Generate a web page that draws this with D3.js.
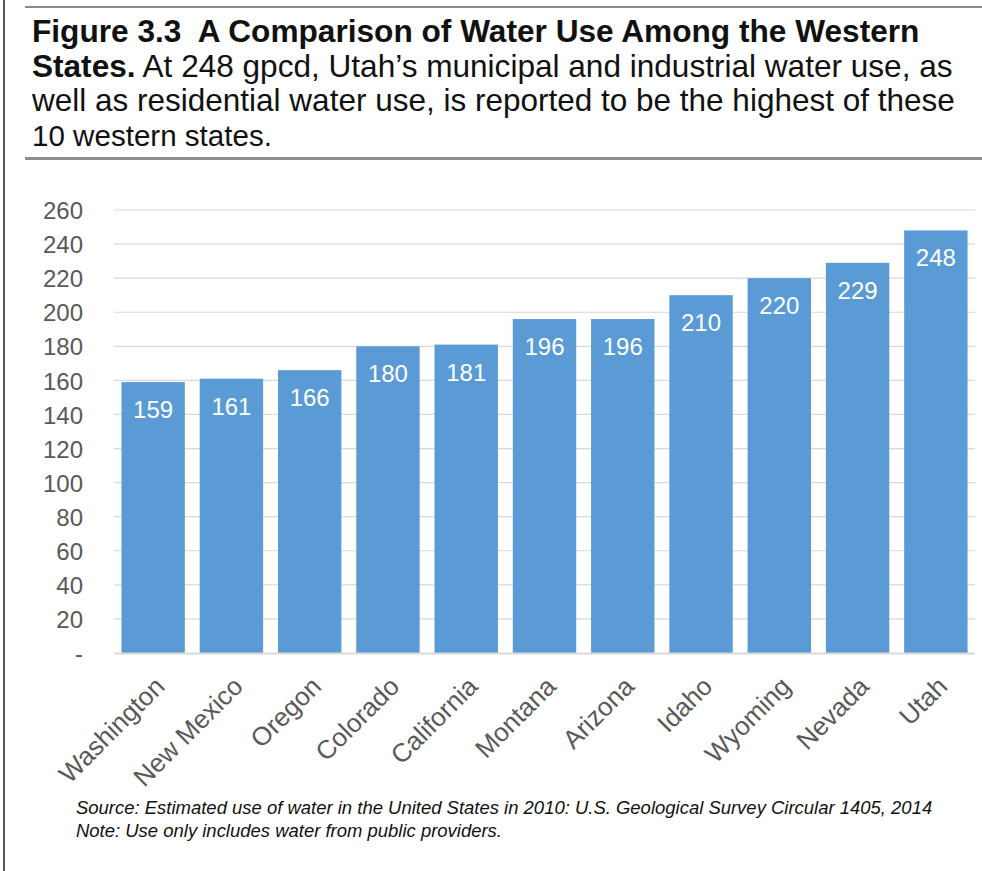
<!DOCTYPE html>
<html><head><meta charset="utf-8">
<script src="https://cdn.jsdelivr.net/npm/d3@7"></script>
<style>body{margin:0;background:#fff}svg{display:block}text{font-family:"Liberation Sans",Arial,sans-serif}</style>
</head><body>
<script>
const states = ["Washington","New Mexico","Oregon","Colorado","California","Montana","Arizona","Idaho","Wyoming","Nevada","Utah"];
const gpcd = [159,161,166,180,181,196,196,210,220,229,248];
const yTicks = [0,20,40,60,80,100,120,140,160,180,200,220,240,260];
const titleLines = [
  [{t:"Figure 3.3\u00a0 A Comparison of Water Use Among the Western",b:true}],
  [{t:"States.",b:true},{t:" At 248 gpcd, Utah\u2019s municipal and industrial water use, as",b:false}],
  [{t:"well as residential water use, is reported to be the highest of these",b:false}],
  [{t:"10 western states.",b:false}]
];
const notes = ["Source: Estimated use of water in the United States in 2010: U.S. Geological Survey Circular 1405, 2014",
               "Note: Use only includes water from public providers."];

const W=982,H=871;
const svg=d3.select("body").append("svg").attr("width",W).attr("height",H);

// frame lines
svg.append("line").attr("x1",4).attr("x2",4).attr("y1",0).attr("y2",H).attr("stroke","#555").attr("stroke-width",2);
svg.append("line").attr("x1",25).attr("x2",W).attr("y1",7).attr("y2",7).attr("stroke","#8a8a8a").attr("stroke-width",2);
svg.append("line").attr("x1",25).attr("x2",W).attr("y1",158.5).attr("y2",158.5).attr("stroke","#8f8f8f").attr("stroke-width",3);

// title
const tBase=[42,77,111,146];
const tWidth=[888,921,923,240];
titleLines.forEach((ln,i)=>{
  const t=svg.append("text").attr("x",32).attr("y",tBase[i]).attr("font-size",28).attr("fill","#111");
  ln.forEach(s=>t.append("tspan").attr("font-weight",s.b?"bold":"normal").text(s.t));
  const w=t.node().getComputedTextLength();
  t.attr("font-size",28*tWidth[i]/w);
});

// chart
const x=d3.scaleBand().domain(states).range([114,975]).paddingInner(0.19).paddingOuter(0.095);
const y=d3.scaleLinear().domain([0,260]).range([653,210]);

const grid=svg.append("g");
grid.selectAll("line").data(yTicks.filter(d=>d>0)).join("line")
  .attr("x1",114).attr("x2",975).attr("y1",d=>y(d)).attr("y2",d=>y(d))
  .attr("stroke","#d9d9d9").attr("stroke-width",1.2);

const yAxis=svg.append("g").attr("transform","translate(83,0)")
  .call(d3.axisLeft(y).tickValues(yTicks).tickSize(0).tickPadding(0).tickFormat(d=>d===0?"-":d));
yAxis.select(".domain").remove();
yAxis.selectAll("text").attr("font-size",24).attr("fill","#595959").attr("dy","0.36em")
  .style("font-family","'Liberation Sans',Arial,sans-serif");

svg.append("g").selectAll("rect").data(gpcd).join("rect")
  .attr("x",(d,i)=>x(states[i])).attr("width",x.bandwidth())
  .attr("y",d=>y(d)).attr("height",d=>y(0)-y(d)).attr("fill","#5b9bd5");

svg.append("line").attr("x1",114).attr("x2",975).attr("y1",y(0)+0.5).attr("y2",y(0)+0.5)
  .attr("stroke","#d9d9d9").attr("stroke-width",2);

svg.append("g").selectAll("text").data(gpcd).join("text")
  .attr("x",(d,i)=>x(states[i])+x.bandwidth()/2).attr("y",d=>y(d)+36)
  .attr("text-anchor","middle").attr("font-size",24).attr("fill","#fff").text(d=>d);

const xAxis=svg.append("g").attr("transform",`translate(0,${y(0)})`)
  .call(d3.axisBottom(x).tickSize(0).tickPadding(0));
xAxis.select(".domain").remove();
xAxis.selectAll("text").attr("font-size",26).attr("fill","#595959")
  .style("font-family","'Liberation Sans',Arial,sans-serif")
  .attr("text-anchor","end").attr("dy",0).attr("y",0)
  .attr("transform","translate(13,35) rotate(-45)");

// notes
const nb=[814,837], nw=[857,null];
let nfs=16;
notes.forEach((n,i)=>{
  const t=svg.append("text").attr("x",76).attr("y",nb[i]).attr("font-size",16).attr("font-style","italic").attr("fill","#111").text(n);
  if(i===0){ const w=t.node().getComputedTextLength(); nfs=16*nw[0]/w; }
  t.attr("font-size",nfs);
});
</script>
</body></html>
